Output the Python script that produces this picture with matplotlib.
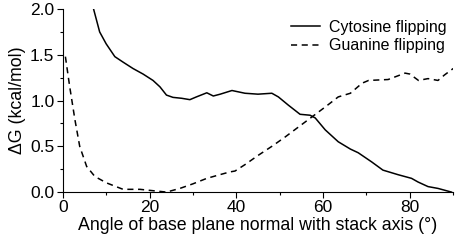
import numpy as np
import matplotlib.pyplot as plt
from matplotlib.ticker import MultipleLocator

plt.rcParams['font.family'] = ['Liberation Sans', 'DejaVu Sans']

# cytosine flipping free energy profile
cyt_angle = [7.1, 8.5, 10, 12, 13.9, 16.2, 18.5, 20.8, 22.4, 23.9, 25.4, 27.4, 29.3, 30.8,
             33.2, 34.7, 36.3, 39, 42, 45, 48.2, 49.7, 52, 54.7, 57, 58.2, 60.5, 63.5,
             66.3, 68.1, 71.2, 73.8, 77.3, 80.4, 81.9, 84.2, 86.5, 89.6]
cyt_dg = [2.0, 1.75, 1.62, 1.48, 1.42, 1.35, 1.29, 1.22, 1.15, 1.06, 1.035, 1.025, 1.01, 1.04,
          1.085, 1.05, 1.07, 1.11, 1.08, 1.07, 1.08, 1.04, 0.95, 0.85, 0.84, 0.81, 0.68, 0.55,
          0.47, 0.43, 0.33, 0.24, 0.19, 0.15, 0.11, 0.06, 0.04, 0.0]

# guanine flipping
gua_angle = [0.6, 1.6, 2.8, 3.9, 5.5, 7.4, 10.1, 13.9, 17.8, 20.8, 23.9, 27, 30, 33.2, 36.2,
             38.5, 39.7, 42, 45, 48.2, 51.2, 54.3, 57.4, 60.5, 63.5, 66.3, 69, 70.5, 75,
             78.9, 80, 82, 84.2, 86.5, 88, 90]
gua_dg = [1.48, 1.15, 0.79, 0.50, 0.28, 0.17, 0.10, 0.03, 0.03, 0.015, 0.0, 0.04, 0.09, 0.15,
          0.19, 0.22, 0.23, 0.30, 0.40, 0.50, 0.60, 0.71, 0.82, 0.93, 1.04, 1.08, 1.19, 1.22,
          1.23, 1.30, 1.29, 1.22, 1.24, 1.22, 1.28, 1.35]

fig = plt.figure(figsize=(4.55, 2.45), dpi=100)
ax = fig.add_axes([0.138, 0.216, 0.858, 0.747])

ax.plot(cyt_angle, cyt_dg, color='black', lw=1.1, label='Cytosine flipping')
ax.plot(gua_angle, gua_dg, color='black', lw=1.1, dashes=(4, 3), label='Guanine flipping')

ax.set_xlim(0, 90)
ax.set_ylim(0, 2.0)
ax.xaxis.set_major_locator(MultipleLocator(20))
ax.xaxis.set_minor_locator(MultipleLocator(10))
ax.yaxis.set_major_locator(MultipleLocator(0.5))
ax.yaxis.set_minor_locator(MultipleLocator(0.25))
ax.spines['top'].set_visible(False)
ax.spines['right'].set_visible(False)
ax.tick_params(which='major', length=4, width=0.8, labelsize=12.5, pad=2)
ax.tick_params(which='minor', length=2.5, width=0.8)
ax.set_xlabel('Angle of base plane normal with stack axis (°)', fontsize=12.8, labelpad=1)
ax.set_ylabel('ΔG (kcal/mol)', fontsize=12.8, labelpad=3)

ax.legend(loc='upper right', frameon=False, fontsize=11.5, handlelength=1.8,
          handletextpad=0.6, borderaxespad=0.0, bbox_to_anchor=(1.0, 0.975), labelspacing=0.2)

fig.savefig('out.png', dpi=100)
